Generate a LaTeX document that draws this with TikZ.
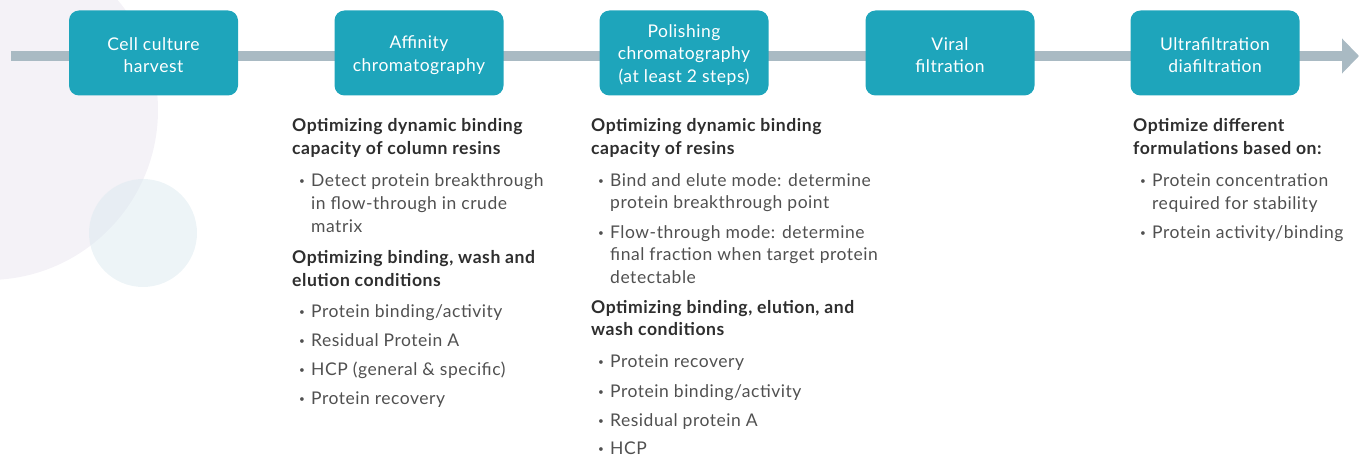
\documentclass[tikz,border=0pt]{standalone}
\usepackage{fontspec}
\setmainfont{Lato}[LetterSpace=3]
\usetikzlibrary{arrows.meta}
\definecolor{boxteal}{HTML}{1EA5BB}
\definecolor{linegray}{HTML}{A9BAC3}
\definecolor{lav}{HTML}{F4F2F7}
\definecolor{palecirc}{HTML}{DCEAF0}
\definecolor{headc}{HTML}{2E2E2E}
\definecolor{bodyc}{HTML}{505050}
\newcommand\headline[4]{\node[hdtxt] (#1) at (#2,#3) {#4};}
\newcommand\bodyline[4]{\node[bltxt] (#1) at (#2,#3) {#4};}
\newcommand\bulletline[4]{\node[bltxt] (#1dot) at (#2-12,#3) {\raisebox{1.6pt}{\fontsize{10}{10}\selectfont •}};\node[bltxt] (#1) at (#2,#3) {#4};}
\newcommand\step[3]{\node[stepbox] (#1) at (#2,53) {};\node[steptxt] (#1t) at ([yshift=-2pt]#1.center) {#3};}
\begin{document}
\begin{tikzpicture}[x=1pt,y=-1pt,
  stepbox/.style={fill=boxteal, rounded corners=10pt, minimum width=169pt, minimum height=85pt, inner sep=0pt},
  steptxt/.style={text=white, align=center, inner sep=0pt, font=\fontsize{17.5}{22.5}\selectfont},
  hdtxt/.style={anchor=base west, inner sep=0pt, text=headc, font=\fontsize{17.6}{23}\selectfont\bfseries},
  bltxt/.style={anchor=base west, inner sep=0pt, text=bodyc, font=\fontsize{17.5}{23}\selectfont}]
\useasboundingbox (0,0) rectangle (1359,457);
\begin{scope}
\clip (0,0) rectangle (1359,457);
\fill[lav] (-12,110) circle[radius=170pt];
\fill[palecirc, opacity=0.5] (143,233) circle[radius=54pt];
\end{scope}
% timeline
\coordinate (tstart) at (11,56);
\coordinate (tend) at (1359,56);
\draw[linegray, line width=10pt, -{Triangle[length=17pt,width=34pt]}] (tstart) -- (tend);
% steps
\step{b1}{153.5}{Cell culture\\harvest}
\step{b2}{419}{Affinity\\chromatography}
\step{b3}{684}{Polishing\\chromatography\\(at least 2 steps)}
\step{b4}{950}{Viral\\filtration}
\step{b5}{1215}{Ultrafiltration\\diafiltration}
% affinity column
\headline{a1}{292}{132}{Optimizing dynamic binding}
\headline{a2}{292}{155}{capacity of column resins}
\bulletline{a3}{311}{186}{Detect protein breakthrough}
\bodyline{a4}{311}{209}{in flow-through in crude}
\bodyline{a5}{311}{232}{matrix}
\headline{a6}{292}{263}{Optimizing binding, wash and}
\headline{a7}{292}{286}{elution conditions}
\bulletline{a8}{311}{317}{Protein binding/activity}
\bulletline{a9}{311}{346}{Residual Protein A}
\bulletline{a10}{311}{375}{HCP (general \& specific)}
\bulletline{a11}{311}{404}{Protein recovery}
% polishing column
\headline{p1}{591}{132}{Optimizing dynamic binding}
\headline{p2}{591}{155}{capacity of resins}
\bulletline{p3}{610}{186}{Bind and elute mode: determine}
\bodyline{p4}{610}{208}{protein breakthrough point}
\bulletline{p5}{610}{238}{Flow-through mode: determine}
\bodyline{p6}{610}{260}{final fraction when target protein}
\bodyline{p7}{610}{283}{detectable}
\headline{p8}{591}{313}{Optimizing binding, elution, and}
\headline{p9}{591}{335}{wash conditions}
\bulletline{p10}{610}{367}{Protein recovery}
\bulletline{p11}{610}{397}{Protein binding/activity}
\bulletline{p12}{610}{426}{Residual protein A}
\bulletline{p13}{610}{454}{HCP}
% UF/DF column
\headline{u1}{1133}{132}{Optimize different}
\headline{u2}{1133}{155}{formulations based on:}
\bulletline{u3}{1152}{186}{Protein concentration}
\bodyline{u4}{1152}{209}{required for stability}
\bulletline{u5}{1152}{238}{Protein activity/binding}
\end{tikzpicture}
\end{document}
